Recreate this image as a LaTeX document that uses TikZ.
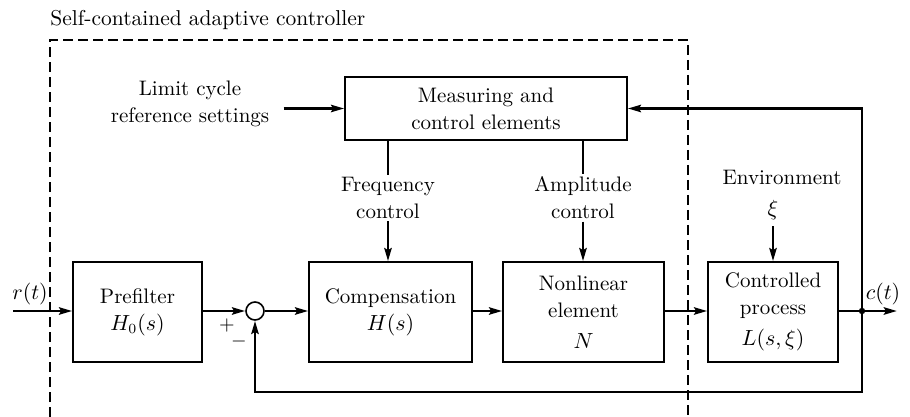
\documentclass[tikz,border=0pt]{standalone}
\usetikzlibrary{arrows.meta}
\begin{document}
\begin{tikzpicture}[x=0.5pt,y=-0.5pt,
  font=\fontsize{10.5}{13.5}\selectfont,
  blk/.style={draw,line width=0.8pt,inner sep=0pt,align=center},
  sig/.style={line width=1.4pt},
  arr/.style={sig,-{Stealth[length=6.5pt,width=3.6pt,inset=1pt]}},
  lbl/.style={align=center,inner sep=1pt},
  bound/.style={line width=0.6pt,dash pattern=on 5pt off 2.5pt}]
\useasboundingbox (0,0) rectangle (910,417);
% dashed region
\draw[bound] (50,417) -- (50,40) -- (688,40) -- (688,417);
\node[inner sep=0pt,anchor=west,font=\fontsize{10.75}{13}\selectfont] (title) at (50,20) {Self-contained adaptive controller};
% blocks
\node[blk,minimum width=141pt,minimum height=31.5pt] (meas) at (486,108.5) {Measuring and\\control elements};
\node[blk,minimum width=64.5pt,minimum height=50pt] (pre) at (137.5,312) {Prefilter\\$H_0(s)$};
\node[blk,minimum width=81.5pt,minimum height=50pt] (comp) at (390.5,312) {Compensation\\$H(s)$};
\node[blk,minimum width=80.5pt,minimum height=50pt] (nl) at (583.5,312) {Nonlinear\\element\\[2pt]$N$};
\node[blk,minimum width=65pt,minimum height=50pt] (cp) at (773,312) {Controlled\\process\\[2pt]$L(s,\xi)$};
\node[draw,circle,line width=0.8pt,minimum size=9pt,inner sep=0pt] (sum) at (255,311) {};
% labels
\node[lbl] (lim) at (190,104) {Limit cycle\\reference settings};
\node[lbl] (freq) at (388,198) {Frequency\\control};
\node[lbl] (amp) at (583,198) {Amplitude\\control};
\node[lbl] (env) at (782,177) {Environment};
\node[lbl] (xi) at (773,210) {$\xi$};
\node[lbl] (rt) at (30,294) {$r(t)$};
\node[lbl] (ct) at (883,294) {$c(t)$};
\node[lbl,font=\fontsize{10}{12}\selectfont] (plus) at (227,325) {$+$};
\node[lbl,font=\fontsize{10}{12}\selectfont] (minus) at (239,341) {$-$};
\coordinate (in) at (13,311);
\coordinate (out) at (897,311);
\coordinate (br) at (862,311);
\coordinate (up) at (862,108.5);
\coordinate (dn) at (862,392);
\coordinate (dl) at (255,392);
% control lines
\draw[arr] ([xshift=6pt]lim.east |- meas.west) -- (meas.west);
\draw[sig] (meas.south -| freq.north) -- (freq.north);
\draw[arr] (freq.south) -- (freq.south |- comp.north);
\draw[sig] (meas.south -| amp.north) -- (amp.north);
\draw[arr] (amp.south) -- (amp.south |- nl.north);
\draw[arr] ([yshift=-2pt]xi.south) -- (cp.north);
% forward path
\draw[arr] (in) -- (pre.west |- in);
\draw[arr] (pre.east |- sum) -- (sum.west);
\draw[arr] (sum.east) -- (comp.west |- sum);
\draw[arr] (comp.east |- sum) -- (nl.west |- sum);
\draw[arr] (nl.east |- sum) -- (cp.west |- sum);
\draw[arr] (cp.east |- sum) -- (out);
\fill (br) circle (1.6pt);
% feedback
\draw[arr] (br) -- (up) -- (meas.east |- up);
\draw[arr] (br) -- (dn) -- (dl) -- (sum.south);
\end{tikzpicture}
\end{document}
